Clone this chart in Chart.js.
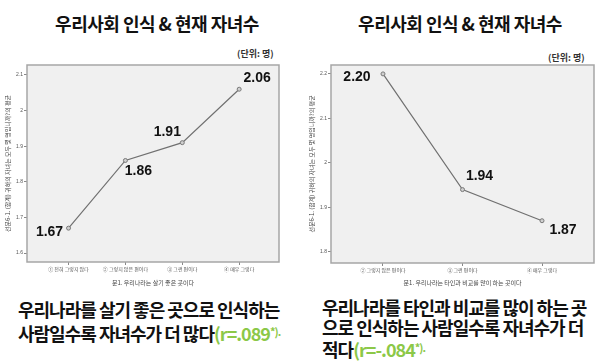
<!DOCTYPE html>
<html>
<head>
<meta charset="utf-8">
<script src="https://cdn.jsdelivr.net/npm/chart.js@4"></script>
<style>
  body { margin: 0; background: #fff; width: 600px; height: 363px; position: relative; overflow: hidden;
         font-family: "Noto Sans CJK KR", "Noto Sans", sans-serif; }
  .title { position: absolute; top: 10px; font-weight: 700; font-size: 18px; letter-spacing: -0.5px;
           transform: translateX(-50%); white-space: nowrap; color: #111; }
  .unit { position: absolute; font-size: 9px; font-weight: 700; color: #333; white-space: nowrap; }
  .caption { position: absolute; top: 298px; font-weight: 700; font-size: 18px; letter-spacing: -1px;
             color: #111; white-space: nowrap; }
  .caption .r { color: #8cc848; }
  .caption .r small { font-size: 11px; vertical-align: 5px; }
  canvas { position: absolute; }
</style>
</head>
<body>
<div class="title" style="left:157px">우리사회 인식 &amp; 현재 자녀수</div>
<div class="title" style="left:460px">우리사회 인식 &amp; 현재 자녀수</div>
<div class="unit" style="left:237px; top:47px">(단위: 명)</div>
<div class="unit" style="left:548px; top:51px">(단위: 명)</div>

<canvas id="left" width="290" height="230" style="left:0; top:60px"></canvas>
<canvas id="right" width="300" height="230" style="left:300px; top:60px"></canvas>

<div class="caption" style="left:18px; line-height:22px">우리나라를 살기 좋은 곳으로 인식하는<br>사람일수록 자녀수가 더 많다<span class="r">(r=.089<small>*).</small></span></div>
<div class="caption" style="left:322px; line-height:20px; top:297px">우리나라를 타인과 비교를 많이 하는 곳<br>으로 인식하는 사람일수록 자녀수가 더<br>적다<span class="r">(r=-.084<small>*).</small></span></div>

<script>
// left chart: 문1. 우리나라는 살기 좋은 곳이다
var leftLabels = ['① 전혀 그렇지 않다', '② 그렇지 않은 편이다', '③ 그런 편이다', '④ 매우 그렇다'];
var leftValues = [1.67, 1.86, 1.91, 2.06];
var leftTicks = [1.6, 1.7, 1.8, 1.9, 2.0, 2.1];

// right chart: 문1. 우리나라는 타인과 비교를 많이 하는 곳이다
var rightLabels = ['② 그렇지 않은 편이다', '③ 그런 편이다', '④ 매우 그렇다'];
var rightValues = [2.20, 1.94, 1.87];
var rightTicks = [1.8, 1.9, 2.0, 2.1, 2.2];

var yTitle = '선문6-1. (합계) 귀하의 자녀는 모두 몇 명입니까?의 평균';

// plot background + frame
var frame = {
    id: 'frame',
    beforeDraw: function (chart) {
        var a = chart.chartArea, c = chart.ctx;
        c.save();
        c.fillStyle = '#f0f0f0';
        c.fillRect(a.left, a.top, a.right - a.left, a.bottom - a.top);
        c.restore();
    },
    afterDraw: function (chart) {
        var a = chart.chartArea, c = chart.ctx;
        c.save();
        c.strokeStyle = '#a6a6a6';
        c.lineWidth = 1.5;
        c.strokeRect(a.left, a.top, a.right - a.left, a.bottom - a.top);
        c.restore();
    }
};

// value labels next to points
var pointLabels = {
    id: 'pointLabels',
    afterDatasetsDraw: function (chart, args, opts) {
        var c = chart.ctx;
        var meta = chart.getDatasetMeta(0);
        var vals = chart.data.datasets[0].data;
        c.save();
        c.font = 'bold 14px "Liberation Sans", Arial, sans-serif';
        c.fillStyle = '#111';
        c.textAlign = 'center';
        c.textBaseline = 'middle';
        meta.data.forEach(function (p, i) {
            var o = opts.offsets[i];
            c.fillText(vals[i].y.toFixed(2), p.x + o[0], p.y + o[1]);
        });
        c.restore();
    }
};

function makeChart(id, labels, values, ticks, xTitle, cfg) {
    return new Chart(document.getElementById(id), {
        type: 'line',
        data: {
            datasets: [{
                data: values.map(function (v, i) { return { x: i, y: v }; }),
                borderColor: '#707070',
                borderWidth: 1.2,
                pointRadius: 2,
                pointBackgroundColor: '#cfcfcf',
                pointBorderColor: '#7a7a7a',
                pointBorderWidth: 1,
                tension: 0
            }]
        },
        options: {
            responsive: false,
            animation: false,
            layout: { padding: cfg.padding },
            plugins: {
                legend: { display: false },
                tooltip: { enabled: false },
                pointLabels: { offsets: cfg.offsets }
            },
            scales: {
                x: {
                    type: 'linear',
                    min: cfg.xMin,
                    max: cfg.xMax,
                    afterBuildTicks: function (s) {
                        s.ticks = labels.map(function (l, i) { return { value: i }; });
                    },
                    afterFit: function (s) { s.height = cfg.xHeight; },
                    ticks: {
                        callback: function (v) { return labels[v]; },
                        font: { size: 5, family: 'Noto Sans CJK KR' },
                        color: '#555',
                        padding: 1,
                        maxRotation: 0,
                        autoSkip: false
                    },
                    grid: { drawOnChartArea: false, tickLength: 3, color: '#888' },
                    border: { display: false },
                    title: {
                        display: true,
                        text: xTitle,
                        font: { size: 6, family: 'Noto Sans CJK KR' },
                        color: '#444',
                        padding: { top: 0, bottom: 4 }
                    }
                },
                y: {
                    min: cfg.yMin,
                    max: cfg.yMax,
                    afterBuildTicks: function (s) {
                        s.ticks = ticks.map(function (t) { return { value: t }; });
                    },
                    afterFit: function (s) { s.width = cfg.yWidth; },
                    ticks: {
                        callback: function (v) { return String(+v.toFixed(1)); },
                        font: { size: 5 },
                        color: '#555',
                        padding: 1
                    },
                    grid: { drawOnChartArea: false, tickLength: 3, color: '#888' },
                    border: { display: false },
                    title: {
                        display: true,
                        text: yTitle,
                        font: { size: 6, family: 'Noto Sans CJK KR' },
                        color: '#444',
                        padding: { top: cfg.yTitlePad, bottom: 0 }
                    }
                }
            }
        },
        plugins: [frame, pointLabels]
    });
}

makeChart('left', leftLabels, leftValues, leftTicks, '문1. 우리나라는 살기 좋은 곳이다', {
    padding: { left: 0, top: 5, right: 11, bottom: 0 },
    xHeight: 28, yWidth: 27, yTitlePad: 4,
    xMin: -0.73, xMax: 3.70, yMin: 1.575, yMax: 2.128,
    offsets: [[-19, 4], [13, 11], [-15, -11], [18, -11]]
});

makeChart('right', rightLabels, rightValues, rightTicks, '문1. 우리나라는 타인과 비교를 많이 하는 곳이다', {
    padding: { left: 0, top: 5, right: 6, bottom: 0 },
    xHeight: 27, yWidth: 31, yTitlePad: 8,
    xMin: -0.654, xMax: 2.654, yMin: 1.775, yMax: 2.22,
    offsets: [[-26, 3], [17, -13], [21, 9]]
});
</script>
</body>
</html>
